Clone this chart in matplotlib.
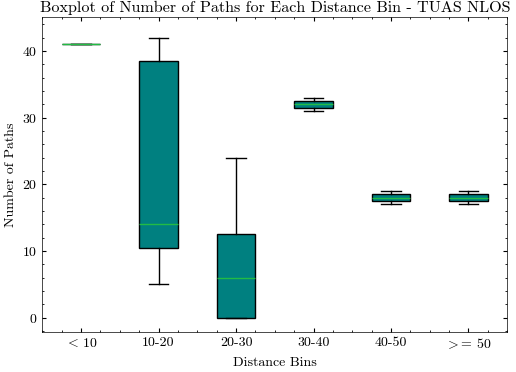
import numpy as np
import matplotlib.pyplot as plt
from matplotlib.ticker import AutoMinorLocator

# box statistics
bins = [r"$<\,$10", "10-20", "20-30", "30-40", "40-50", "$>$= 50"]
whislo = [41, 5, 0, 31, 17, 17]
q1 = [41, 10.5, 0, 31.5, 17.5, 17.5]
med = [41, 14, 6, 32, 18, 18]
q3 = [41, 38.5, 12.5, 32.5, 18.5, 18.5]
whishi = [41, 42, 24, 33, 19, 19]

plt.rcParams['font.family'] = 'serif'
plt.rcParams['font.serif'] = ['cmr10']
plt.rcParams['mathtext.fontset'] = 'cm'
plt.rcParams['axes.formatter.use_mathtext'] = True
plt.rcParams['xtick.direction'] = 'in'
plt.rcParams['ytick.direction'] = 'in'
plt.rcParams['xtick.top'] = True
plt.rcParams['ytick.right'] = True
plt.rcParams['xtick.major.size'] = 3
plt.rcParams['ytick.major.size'] = 3
plt.rcParams['xtick.minor.size'] = 1.5
plt.rcParams['ytick.minor.size'] = 1.5
plt.rcParams['axes.linewidth'] = 0.5

stats = []
for i in range(len(bins)):
    stats.append({"whislo": whislo[i], "q1": q1[i], "med": med[i],
                  "q3": q3[i], "whishi": whishi[i], "fliers": [], "label": bins[i]})

fig, ax = plt.subplots(figsize=(5.16, 3.72), dpi=100)
ax.bxp(stats, widths=0.5, patch_artist=True,
       boxprops=dict(facecolor="#008080", edgecolor="black", linewidth=1),
       medianprops=dict(color="#22bb44", linewidth=1),
       whiskerprops=dict(color="black", linewidth=1),
       capprops=dict(color="black", linewidth=1))

ax.set_xlim(0.5, 6.5)
ax.set_ylim(-2.1, 45.1)
ax.xaxis.set_minor_locator(AutoMinorLocator(4))
ax.yaxis.set_minor_locator(AutoMinorLocator(5))
ax.set_title("Boxplot of Number of Paths for Each Distance Bin - TUAS NLOS",
             fontsize=11.6, pad=4)
ax.set_xlabel("Distance Bins")
ax.set_ylabel("Number of Paths")

fig.subplots_adjust(left=0.082, right=0.983, top=0.954, bottom=0.108)
fig.savefig("out.png", dpi=100)
